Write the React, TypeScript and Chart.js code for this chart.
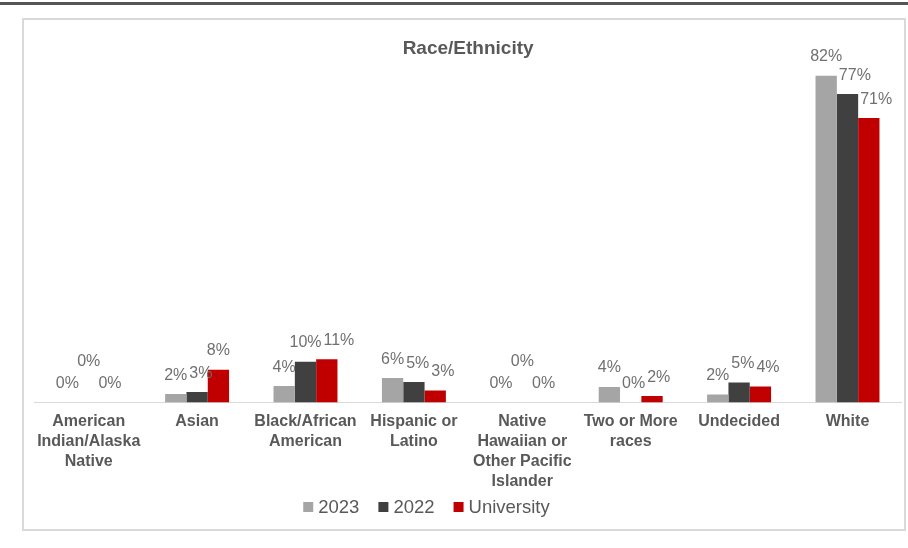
import React, { useEffect, useRef } from "react";
import { Chart, registerables } from "chart.js";

Chart.register(...registerables);

const FONT = '"Liberation Sans", Arial, sans-serif';

const chartTitle = "Race/Ethnicity";
const categories: string[][] = [
  ["American", "Indian/Alaska", "Native"],
  ["Asian"],
  ["Black/African", "American"],
  ["Hispanic or", "Latino"],
  ["Native", "Hawaiian or", "Other Pacific", "Islander"],
  ["Two or More", "races"],
  ["Undecided"],
  ["White"],
];
const seriesNames = ["2023", "2022", "University"];
const values2023 = [0, 2.1, 4.1, 6.1, 0, 3.9, 2.0, 81.7];
const values2022 = [0, 2.6, 10.2, 5.1, 0, 0, 5.0, 77.1];
const valuesUniversity = [0, 8.2, 10.8, 3.0, 0, 1.6, 4.0, 71.1];
const seriesColors = ["#a5a5a5", "#404040", "#c00000"];

const LEGEND_CENTER_X = 402.5;
const LEGEND_Y = 487;

const dataLabelPlugin = {
  id: "dataLabels",
  afterDatasetsDraw(chart: any) {
    const ctx = chart.ctx as CanvasRenderingContext2D;
    ctx.save();
    ctx.font = `16px ${FONT}`;
    ctx.fillStyle = "#707070";
    ctx.textAlign = "center";
    ctx.textBaseline = "middle";
    const n = chart.data.labels.length;
    const H = 14;
    for (let i = 0; i < n; i++) {
      const items: any[] = [];
      chart.data.datasets.forEach((ds: any, d: number) => {
        const el = chart.getDatasetMeta(d).data[i];
        const text = Math.round(ds.data[i]) + "%";
        items.push({
          x: el.x,
          y: el.y - 19,
          w: ctx.measureText(text).width,
          text,
          lifted: false,
          barL: el.x - el.width / 2,
          barR: el.x + el.width / 2,
          barTop: el.y,
        });
      });
      for (let k = 1; k < items.length; k++) {
        const b = items[k];
        for (let j = 0; j < k; j++) {
          const a = items[j];
          // avoid bars to the left
          const bl = b.x - b.w / 2;
          if (bl < a.barR + 1 && b.y + H / 2 > a.barTop && b.x + b.w / 2 > a.barL) {
            b.x = a.barR + b.w / 2 + 2;
          }
          const overlapX = Math.abs(b.x - a.x) < (a.w + b.w) / 2 + 1;
          const overlapY = Math.abs(b.y - a.y) < H;
          if (overlapX && overlapY) {
            if (a.text === b.text && !a.lifted) {
              b.y -= 22;
              b.lifted = true;
            } else {
              b.x = a.x + (a.w + b.w) / 2 + 2;
            }
          }
        }
      }
      items.forEach((it) => ctx.fillText(it.text, it.x, it.y));
    }
    ctx.restore();
  },
};

const legendPlugin = {
  id: "customLegend",
  afterDraw(chart: any) {
    const ctx = chart.ctx as CanvasRenderingContext2D;
    ctx.save();
    ctx.font = `18.5px ${FONT}`;
    ctx.textBaseline = "middle";
    ctx.textAlign = "left";
    const items = chart.data.datasets.map((ds: any) => ({
      label: ds.label,
      color: ds.backgroundColor,
      w: ctx.measureText(ds.label).width,
    }));
    const box = 10;
    const gapBox = 5;
    const gapItem = 19;
    const total =
      items.reduce((s: number, it: any) => s + box + gapBox + it.w, 0) + gapItem * (items.length - 1);
    let x = LEGEND_CENTER_X - total / 2;
    items.forEach((it: any) => {
      ctx.fillStyle = it.color;
      ctx.fillRect(x, LEGEND_Y - box / 2, box, box);
      x += box + gapBox;
      ctx.fillStyle = "#595959";
      ctx.fillText(it.label, x, LEGEND_Y + 1);
      x += it.w + gapItem;
    });
    ctx.restore();
  },
};

export default function App() {
  const canvasRef = useRef<HTMLCanvasElement | null>(null);

  useEffect(() => {
    if (!canvasRef.current) return;
    const seriesValues = [values2023, values2022, valuesUniversity];
    const chart = new Chart(canvasRef.current, {
      type: "bar",
      data: {
        labels: categories,
        datasets: seriesNames.map((name, i) => ({
          label: name,
          data: seriesValues[i],
          backgroundColor: seriesColors[i],
          borderWidth: 0,
          categoryPercentage: 0.59,
          barPercentage: 1,
        })),
      },
      options: {
        responsive: false,
        animation: false,
        layout: { padding: { left: 10.5, right: 2.3, top: 0, bottom: 0 } },
        plugins: {
          legend: { display: false },
          tooltip: { enabled: false },
          title: {
            display: true,
            text: chartTitle,
            color: "#595959",
            font: { family: FONT, size: 19, weight: "bold", lineHeight: 1.2 },
            padding: { top: 17, bottom: 2.7 },
          },
        },
        scales: {
          x: {
            grid: { display: false, drawTicks: false },
            border: { display: true, color: "#d9d9d9", width: 1 },
            ticks: {
              color: "#595959",
              font: { family: FONT, size: 16, weight: "bold", lineHeight: 1.25 },
              padding: 9.5,
              autoSkip: false,
              maxRotation: 0,
              minRotation: 0,
            },
            afterFit: (s: any) => {
              s.height = 126.5;
            },
          },
          y: { display: false, min: 0, max: 85 },
        },
      } as any,
      plugins: [dataLabelPlugin, legendPlugin],
    });
    return () => chart.destroy();
  }, []);

  return (
    <div style={{ position: "fixed", left: 0, top: 0, width: 908, height: 548, background: "#ffffff" }}>
      <div style={{ position: "absolute", left: 0, top: 2, width: 908, height: 3, background: "#555555" }} />
      <div
        style={{
          position: "absolute",
          left: 22,
          top: 18,
          width: 880,
          height: 509,
          border: "2px solid #d9d9d9",
        }}
      >
        <canvas ref={canvasRef} width={880} height={509} style={{ display: "block" }} />
      </div>
    </div>
  );
}
